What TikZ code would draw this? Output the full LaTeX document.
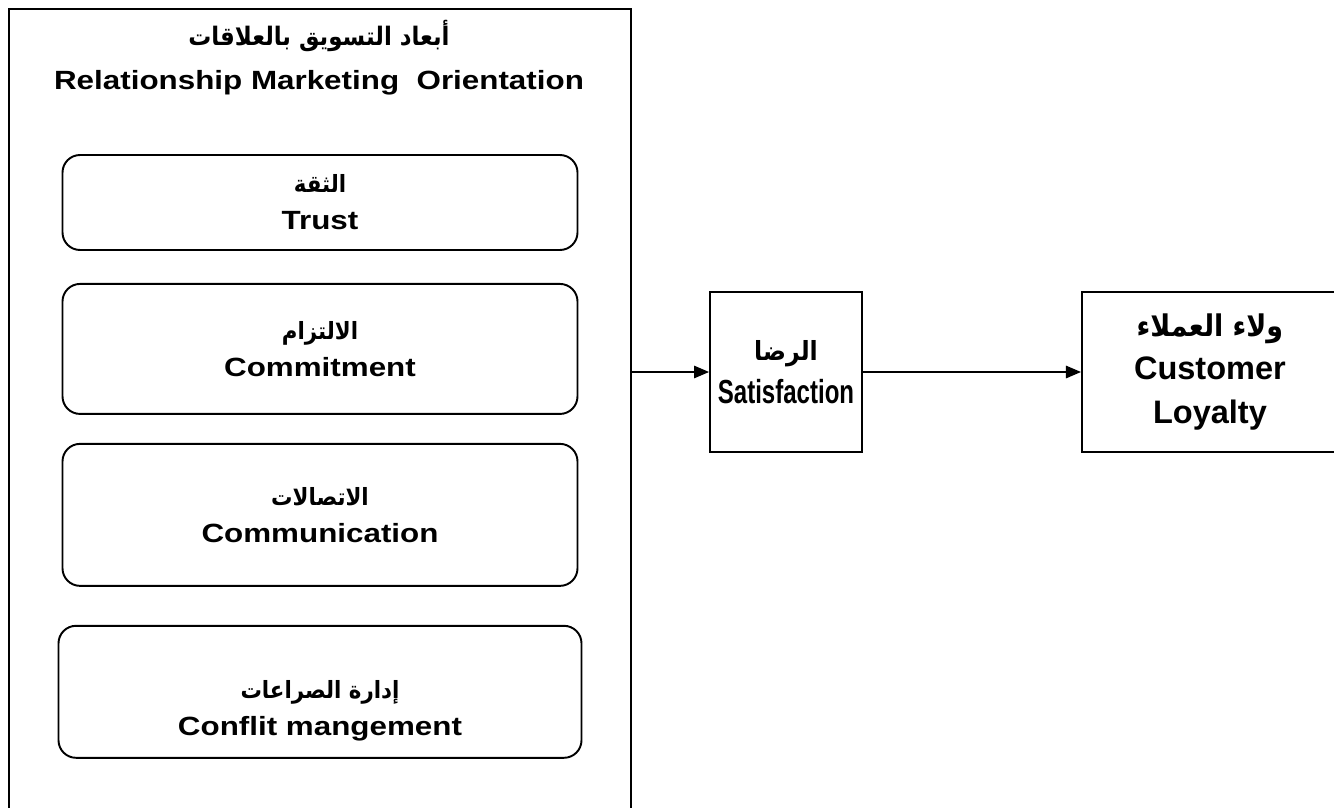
\documentclass[tikz,border=0pt]{standalone}
\usepackage{fontspec}
\setmainfont{Liberation Sans}
\newfontfamily\arabicfont[Script=Arabic,FakeStretch=0.9]{DejaVu Sans}
\newfontfamily\widefont[FakeStretch=1.19]{Liberation Sans}
\newfontfamily\narrowfont[FakeStretch=0.72]{Liberation Sans}
\TeXXeTstate=1
\usetikzlibrary{positioning,arrows.meta}
\tikzset{
  grpbox/.style ={draw, line width=1.1pt, inner sep=0pt},
  dimtxt/.style ={align=center, font=\fontsize{15}{21}\widefont\bfseries},
  dimbox/.style ={dimtxt, draw, line width=1.1pt, rounded corners=10pt, minimum width=10.3cm},
  varbox/.style ={draw, line width=1.1pt, align=center, minimum height=3.2cm, inner xsep=1mm},
  fl/.style     ={-{Triangle[length=3mm,width=2.5mm]}, line width=0.8pt}
}
\newcommand{\ar}[1]{{\arabicfont\bfseries\beginR #1\endR}}

\begin{document}
\begin{tikzpicture}
  \useasboundingbox (0,0) rectangle (26.68,-16.14);
  \clip (0,0) rectangle (26.68,-16.14);

  % relationship marketing dimensions
  \node[grpbox, minimum width=12.44cm, minimum height=16.6cm, anchor=north west](rmo) at (0.16,-0.16){};
  \node[dimtxt, font=\fontsize{15}{25}\widefont\bfseries](title) at (6.38,-1.15)
       {\ar{\fontsize{14.5}{25}\selectfont أبعاد التسويق بالعلاقات}\\Relationship Marketing\ \ Orientation};

  \node[dimbox, minimum height=1.9cm](trust) at (6.4,-4.05){\ar{\fontsize{13.5}{21}\selectfont الثقة}\\Trust};
  \node[dimbox, minimum height=2.6cm, below=6.4mm of trust](commit){\ar{\fontsize{13.5}{21}\selectfont الالتزام}\\Commitment};
  \node[dimbox, minimum height=2.84cm, below=5.6mm of commit](comm){\ar{\fontsize{13.5}{21}\selectfont الاتصالات}\\Communication};
  \node[dimbox, minimum height=2.64cm, minimum width=10.46cm, below=7.6mm of comm](confl){};
  \node[dimtxt](confltxt) at ([yshift=-3.8mm]confl.center){\ar{\fontsize{13.5}{21}\selectfont إدارة الصراعات}\\Conflit mangement};

  % outcomes
  \node[varbox, minimum width=3.04cm, font=\fontsize{19}{24.5}\narrowfont\bfseries](sat) at (15.72,-7.44)
       {\ar{\fontsize{15}{24.5}\selectfont الرضا}\\Satisfaction};
  \node[varbox, minimum width=5.12cm, font=\fontsize{18.5}{24.5}\selectfont\bfseries, right=4.36cm of sat](loy)
       {\ar{\fontsize{17}{24.5}\selectfont ولاء العملاء}\\Customer\\Loyalty};

  \draw[fl](sat.west -| rmo.east) -- (sat.west);
  \draw[fl](sat.east) -- (sat.east -| loy.west);
\end{tikzpicture}
\end{document}
